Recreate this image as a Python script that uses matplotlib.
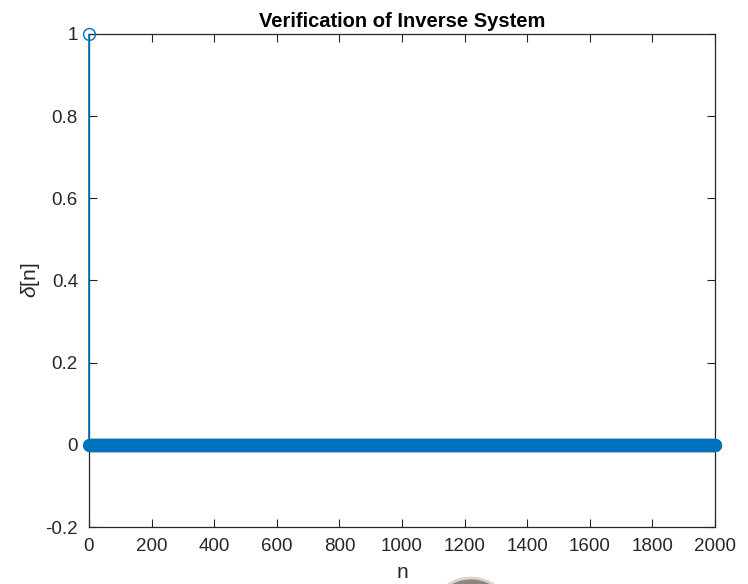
import matplotlib.pyplot as plt
import matplotlib.patches as mpatches
import numpy as np

# inverse system output: unit impulse at n = 0, zeros afterwards
n = np.arange(0, 2001)
delta = np.zeros(len(n))
delta[0] = 1.0

x_ticks = [0, 200, 400, 600, 800, 1000, 1200, 1400, 1600, 1800, 2000]
y_ticks = [-0.2, 0, 0.2, 0.4, 0.6, 0.8, 1]
y_tick_labels = ['-0.2', '0', '0.2', '0.4', '0.6', '0.8', '1']

plt.rcParams['font.family'] = ['Liberation Sans', 'DejaVu Sans']
plt.rcParams['mathtext.fontset'] = 'custom'
plt.rcParams['mathtext.it'] = 'Liberation Sans:italic'

blue = '#0072BD'
axis_col = '#262626'

fig = plt.figure(figsize=(7.48, 5.84), dpi=100)
ax = fig.add_axes([89 / 748, 57 / 584, 626 / 748, 493 / 584])

markerline, stemlines, baseline = ax.stem(n, delta, basefmt=' ')
plt.setp(stemlines, color=blue, linewidth=1.2, zorder=3, clip_on=False)
plt.setp(markerline, color=blue, marker='o', markersize=8.5,
         markerfacecolor='none', markeredgewidth=1.0, clip_on=False,
         zorder=4)

ax.set_xlim(0, 2000)
ax.set_ylim(-0.2, 1)
ax.set_xticks(x_ticks)
ax.set_yticks(y_ticks)
ax.set_yticklabels(y_tick_labels)

ax.tick_params(direction='in', length=6, width=0.8, top=True, right=True,
               labelsize=13.5, colors=axis_col, pad=8)
for s in ax.spines.values():
    s.set_color(axis_col)
    s.set_linewidth(0.9)

ax.set_title('Verification of Inverse System', fontsize=14.5,
             fontweight='bold', color='black', pad=5)
ax.set_xlabel('n', fontsize=15, color=axis_col, labelpad=6)
ax.set_ylabel(r'$\delta$[n]', fontsize=15, color=axis_col, labelpad=2)

# grey round blob poking up from the bottom edge of the window
blob = mpatches.Ellipse((471 / 748, 1 - 620 / 584), 84 / 748, 84 / 584,
                        transform=fig.transFigure, facecolor='#8d8680',
                        edgecolor='#d8d5d2', linewidth=2, clip_on=False)
fig.patches.append(blob)

fig.savefig('out.png', dpi=100)
